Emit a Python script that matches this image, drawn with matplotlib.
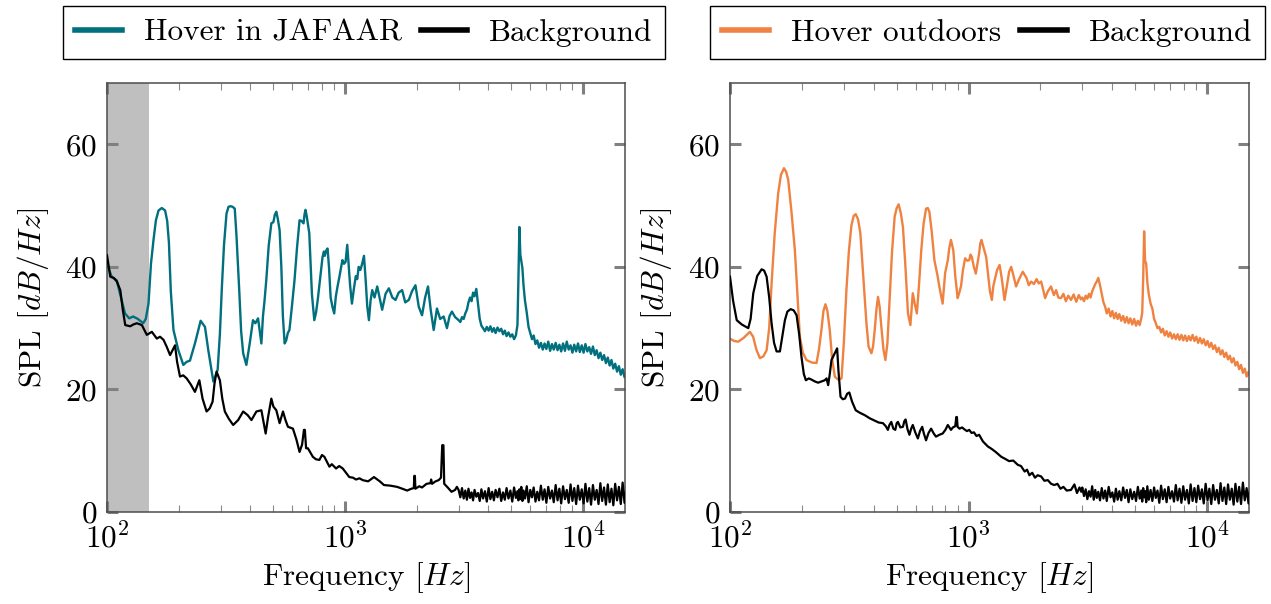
import matplotlib
matplotlib.use('Agg')
import matplotlib.pyplot as plt
from matplotlib.lines import Line2D
from matplotlib.ticker import LogLocator, NullFormatter

plt.rcParams['font.family'] = 'serif'
plt.rcParams['font.serif'] = ['cmr10']
plt.rcParams['mathtext.fontset'] = 'cm'
plt.rcParams['axes.formatter.use_mathtext'] = True
plt.rcParams['axes.unicode_minus'] = False

# ---------------- data ----------------
# shared high-frequency grid (Hz)
hf_freq = [3000, 3050, 3100, 3150, 3200, 3250, 3300, 3350, 3400, 3450,
           3500, 3560, 3620, 3680, 3740, 3800, 3870, 3940, 4010, 4080,
           4150, 4220, 4290, 4370, 4450, 4530, 4610, 4690, 4770, 4860,
           4950, 5040, 5130, 5220, 5300, 5350, 5400, 5450, 5500, 5560,
           5620, 5700, 5800, 5900, 6000, 6100, 6200, 6310, 6420, 6530,
           6650, 6770, 6890, 7010, 7140, 7270, 7400, 7530, 7670, 7810,
           7950, 8090, 8240, 8390, 8540, 8700, 8860, 9020, 9180, 9350,
           9520, 9690, 9870, 10050, 10230, 10420, 10610, 10800, 11000, 11200,
           11400, 11610, 11820, 12030, 12250, 12470, 12700, 12930, 13160, 13400,
           13640, 13890, 14140, 14400, 14660, 14930, 15200]

# Left panel: hover in JAFAAR (low/mid frequency part)
jaf_freq = [100, 104.6, 109.8, 113.3, 119, 124, 128.8, 134.8, 141.9, 145.5,
            149.4, 153, 156.8, 160.5, 164.6, 169.9, 175.4, 179, 182, 185.4,
            190.2, 199.4, 209.2, 216, 223.1, 234.1, 247.4, 258, 266.4, 279.7,
            291.6, 298, 303.4, 310, 317.7, 324, 330.3, 337, 344.1, 350,
            359.3, 366, 373.3, 385, 397.7, 410.5, 420, 431.1, 445.2, 452,
            459, 466.7, 478, 490.2, 500, 507, 514.4, 522, 531, 540,
            548, 557.5, 566, 575, 584, 598, 613.3, 628, 644, 656,
            669.4, 676, 682.3, 690, 698, 707.5, 716, 726, 742.8, 755,
            767.8, 785, 804.3, 815, 822, 832, 844.3, 856, 870, 885,
            900.5, 915, 930, 944, 958, 974.8, 990, 1005, 1021.5, 1035,
            1050, 1069, 1090, 1110, 1125, 1141, 1160, 1180, 1201, 1220,
            1240, 1260, 1280, 1301, 1330, 1365, 1400, 1432, 1480, 1528,
            1580, 1630, 1680, 1737, 1790, 1853, 1910, 1976, 2040, 2106,
            2170, 2231, 2290, 2357, 2433, 2510, 2596, 2680, 2750, 2812, 2900]
jaf_spl = [40.5, 38.4, 37.8, 35.7, 32.4, 31.6, 31.9, 31.5, 30.8, 31.5,
           34.0, 40.5, 44.4, 47.6, 49.2, 49.6, 49.2, 47.5, 44.0, 36.0,
           29.7, 26.4, 24.0, 24.5, 24.7, 27.5, 31.2, 30.2, 26.4, 21.3,
           23.2, 29.0, 36.2, 43.5, 48.7, 49.8, 49.9, 49.8, 49.5, 45.0,
           36.2, 29.5, 25.9, 24.0, 27.5, 31.3, 30.8, 31.6, 27.5, 31.9,
           34.5, 37.8, 43.5, 47.1, 47.3, 48.5, 49.0, 47.8, 46.0, 40.0,
           32.0, 27.5, 28.0, 29.2, 29.7, 33.5, 37.8, 43.0, 47.6, 47.5,
           47.1, 48.6, 49.3, 48.3, 47.0, 45.5, 41.0, 35.5, 31.3, 32.5,
           34.6, 38.0, 41.6, 42.5, 41.8, 42.6, 43.0, 40.0, 35.0, 33.5,
           32.4, 35.2, 36.8, 38.1, 39.5, 41.1, 40.5, 40.8, 43.6, 40.5,
           37.0, 34.0, 36.5, 38.5, 38.0, 40.0, 39.5, 40.5, 41.8, 38.0,
           33.5, 31.3, 34.5, 36.2, 35.0, 36.8, 34.8, 33.0, 35.6, 36.5,
           35.0, 34.6, 35.8, 36.2, 34.2, 34.6, 36.0, 37.0, 33.5, 32.1,
           35.0, 36.8, 33.0, 29.7, 33.2, 31.5, 31.9, 30.0, 32.0, 32.7, 31.8]
jaf_hf_spl = [31.3, 31.0, 31.8, 31.5, 32.4, 33.0, 34.2, 35.0, 34.4, 35.8,
              35.2, 36.4, 34.0, 31.5, 30.4, 30.0, 29.5, 30.2, 29.6, 30.3,
              29.4, 30.0, 29.2, 30.1, 29.5, 29.9, 29.0, 29.6, 28.7, 29.3,
              28.6, 29.0, 28.2, 28.8, 30.5, 38.0, 46.5, 42.0, 41.0, 39.8,
              37.0, 34.5, 32.5, 30.2, 29.2, 28.2, 28.8, 27.4, 28.0, 26.8,
              27.6, 26.5, 27.5, 26.6, 27.8, 26.3, 27.4, 26.5, 27.6, 26.4,
              27.3, 26.2, 27.5, 26.3, 27.8, 26.5, 27.2, 26.0, 27.3, 26.2,
              27.5, 26.1, 27.2, 26.0, 27.4, 26.2, 26.9, 25.8, 27.0, 25.6,
              26.4, 25.1, 26.0, 24.8, 25.6, 24.3, 25.2, 23.9, 24.8, 23.4,
              24.2, 22.9, 23.8, 22.4, 23.3, 22.0, 22.8]

# Left panel: background
bgl_freq = [100, 103.2, 106.7, 110.1, 113.7, 116.5, 119.3, 125.2, 129, 133.5,
            140.1, 147.0, 154.3, 161.9, 167, 172.7, 178, 184.1, 193.1, 197,
            202.6, 209, 216.1, 225, 234.1, 244.3, 252, 262.0, 270, 277.7,
            283, 288.6, 298.0, 305, 312.6, 325, 338.9, 355.6, 373.3, 390,
            404.4, 424.2, 445.2, 464.0, 475, 490.2, 500, 514.4, 531.0, 548.7,
            562, 575.8, 604.2, 625, 644.0, 660, 672, 678, 686, 698.0,
            732.6, 755, 780.6, 800, 819.1, 859.6, 880, 917.0, 945, 978.1,
            1010, 1042, 1080, 1112, 1150, 1186, 1250, 1323, 1400, 1457,
            1550, 1655, 1740, 1823, 1900, 1945, 1955, 1965, 1975, 2050,
            2106, 2200, 2284, 2300, 2320, 2400, 2474, 2530, 2560, 2590,
            2610, 2700, 2800, 2900, 2950]
bgl_spl = [41.9, 38.4, 38.2, 37.6, 36.2, 33.0, 30.5, 30.3, 30.6, 30.8,
           30.5, 28.9, 29.4, 28.3, 28.6, 28.1, 27.0, 25.6, 27.2, 24.5,
           22.1, 22.3, 21.8, 20.8, 19.6, 21.5, 18.5, 16.4, 16.9, 18.0,
           21.0, 22.9, 21.5, 18.5, 16.4, 15.2, 14.2, 15.0, 16.4, 15.8,
           15.0, 16.4, 16.6, 12.8, 15.5, 18.5, 17.2, 16.6, 14.5, 16.4,
           15.0, 13.9, 13.6, 11.8, 9.8, 11.0, 13.4, 13.4, 10.4, 10.4,
           9.0, 8.6, 8.5, 9.3, 9.0, 7.4, 7.8, 7.1, 7.5, 7.1,
           6.4, 5.7, 5.6, 5.3, 5.5, 5.2, 5.0, 5.7, 5.0, 4.4,
           4.3, 4.1, 3.8, 3.5, 3.8, 3.9, 5.9, 5.9, 3.8, 4.2,
           4.0, 4.6, 4.7, 5.3, 4.6, 5.0, 5.2, 5.6, 10.9, 10.9,
           4.6, 4.0, 3.3, 3.6, 4.1]
bgl_hf_spl = [3.6, 2.4, 3.9, 2.2, 3.5, 2.0, 3.8, 2.3, 3.2, 1.9,
              3.6, 2.5, 3.1, 1.8, 3.7, 2.2, 3.4, 1.7, 3.9, 2.1,
              3.3, 1.9, 3.6, 2.4, 3.8, 1.8, 3.2, 2.0, 3.9, 2.2,
              3.5, 1.7, 4.0, 2.3, 3.4, 1.9, 3.7, 2.1, 4.1, 1.8,
              3.5, 2.2, 4.2, 1.6, 3.6, 2.4, 4.0, 1.7, 3.3, 1.9,
              4.3, 2.0, 3.7, 1.5, 4.1, 2.2, 3.5, 1.6, 4.4, 1.9,
              3.8, 1.4, 4.2, 2.1, 3.6, 1.5, 4.5, 1.8, 3.9, 1.3,
              4.3, 2.0, 3.7, 1.4, 4.6, 1.7, 3.9, 1.2, 4.4, 2.0,
              3.6, 1.3, 4.7, 1.8, 4.0, 1.2, 4.5, 1.6, 3.8, 1.1,
              4.6, 1.9, 4.1, 1.3, 4.8, 1.5, 3.9]

# Right panel: hover outdoors
out_freq = [100, 104, 108.3, 114, 121.2, 125, 129, 133.5, 138, 142.4,
            146, 149.4, 154, 159.2, 163.5, 168.3, 172, 175.4, 181, 187.1,
            192, 196.3, 202, 209.2, 220, 230.5, 236, 241.7, 246.5, 251.3,
            256, 262, 268, 275, 284, 293.5, 300, 307.7, 315, 323,
            330, 336.6, 344, 352, 362, 373.3, 381, 391.7, 398, 404.4,
            411, 417.4, 424, 431.1, 440, 448.3, 457, 466.7, 478, 490.2,
            500, 509.5, 520, 531, 544, 557.5, 570.6, 577, 584, 595,
            607.4, 620, 633.8, 648, 663.7, 675, 685.3, 700, 719.4, 742.8,
            754.4, 778.9, 798, 819.1, 830, 844.3, 854, 863.6, 880, 900.5,
            915, 930, 948, 968, 988, 1006.6, 1020, 1033, 1050, 1073,
            1090, 1108, 1120, 1133, 1150, 1170, 1186, 1210, 1230, 1253,
            1270, 1287, 1318, 1350, 1380, 1416, 1450, 1480, 1510, 1545,
            1583, 1630, 1689, 1750, 1790, 1830, 1880, 1930, 1970, 2016,
            2050, 2095, 2150, 2218, 2280, 2330, 2380, 2441, 2500, 2560,
            2620, 2690, 2760, 2830, 2900, 2960]
out_spl = [28.3, 27.9, 27.8, 28.4, 29.4, 28.6, 26.5, 25.1, 25.4, 26.4,
           30.0, 37.3, 45.5, 52.0, 55.0, 56.1, 55.5, 54.2, 49.0, 42.7,
           35.0, 28.6, 26.0, 24.8, 24.4, 24.3, 26.5, 29.7, 32.8, 33.9,
           32.8, 29.7, 25.0, 22.1, 21.6, 21.8, 27.5, 36.2, 42.5, 46.8,
           48.3, 48.6, 47.8, 45.5, 38.5, 30.8, 27.0, 25.9, 27.0, 29.7,
           33.0, 35.1, 33.5, 30.2, 26.5, 24.8, 27.5, 34.6, 42.5, 48.2,
           49.6, 50.2, 48.8, 46.5, 40.0, 32.4, 30.5, 33.0, 35.7, 34.0,
           32.4, 37.0, 42.7, 47.0, 49.5, 49.6, 49.0, 46.0, 41.1, 38.4,
           36.8, 34.0, 39.0, 41.1, 43.0, 44.4, 43.5, 42.7, 38.5, 34.9,
           35.8, 36.8, 39.5, 41.4, 41.0, 41.1, 42.0, 41.6, 40.2, 38.9,
           40.5, 42.2, 43.8, 44.4, 43.5, 42.5, 41.6, 38.5, 36.0, 34.6,
           36.8, 37.8, 39.5, 40.3, 38.0, 34.6, 37.0, 39.2, 40.0, 38.5,
           36.8, 38.0, 39.2, 38.2, 37.0, 37.6, 37.2, 38.0, 37.3, 37.6,
           36.5, 34.9, 36.0, 36.8, 35.4, 36.2, 35.0, 34.9, 35.6, 34.4,
           35.3, 34.6, 35.5, 34.3, 35.4, 34.7]
out_hf_spl = [35.0, 34.4, 35.3, 34.8, 35.6, 35.0, 36.0, 36.6, 37.2, 37.6,
              38.2, 37.0, 35.6, 34.2, 33.5, 32.4, 33.2, 31.9, 32.8, 31.6,
              32.5, 31.5, 32.3, 31.2, 32.0, 30.9, 31.8, 30.8, 31.6, 30.6,
              31.5, 30.4, 31.2, 30.5, 31.6, 32.5, 38.0, 45.8, 41.0, 40.5,
              37.5, 35.5, 34.0, 33.2, 31.5, 30.8, 30.0, 30.2, 29.3, 29.9,
              28.8, 29.5, 28.6, 29.3, 28.3, 29.0, 28.2, 29.0, 28.1, 28.9,
              28.0, 28.8, 27.9, 28.7, 28.0, 28.9, 27.9, 28.6, 27.6, 28.4,
              27.5, 28.2, 27.2, 27.9, 26.9, 27.6, 26.6, 27.2, 26.1, 26.8,
              25.7, 26.4, 25.3, 26.0, 24.9, 25.5, 24.4, 25.1, 23.9, 24.5,
              23.3, 24.0, 22.7, 23.4, 22.1, 22.9, 21.9]

# Right panel: background
bgr_freq = [100, 103, 106.7, 112, 119.3, 122, 125.2, 130, 135.7, 139,
            142.4, 146, 149.4, 153, 156.8, 161.9, 165.5, 169.9, 174, 179.6,
            185, 190.2, 195, 199.4, 204, 208, 214, 219.7, 227, 234.1,
            242, 249.7, 254, 258, 262, 266.4, 274, 281.3, 285, 290.7,
            297, 303.4, 310, 316.4, 325, 336.6, 350, 367.3, 385, 404.4,
            420, 437.7, 450, 459.2, 466, 474.6, 484, 493.2, 500, 506,
            518, 531, 538, 545, 555, 565.5, 575, 584, 598, 613.3,
            626, 639.5, 650, 663.7, 680, 697, 715, 730.6, 755, 778.9,
            800, 819.1, 832, 844.3, 860, 880, 889, 894, 900, 917,
            940, 960, 985, 1006.6, 1030, 1054, 1080, 1108, 1150, 1205,
            1250, 1300, 1373, 1420, 1480, 1540, 1609, 1660, 1720, 1760,
            1800, 1850, 1900, 1950, 2016, 2080, 2150, 2220, 2290, 2360,
            2430, 2500, 2580, 2690, 2780, 2850, 2920, 2970]
bgr_spl = [38.4, 34.5, 31.3, 30.6, 30.0, 31.5, 35.7, 38.5, 39.6, 39.4,
           38.4, 35.0, 30.8, 27.6, 26.2, 26.2, 28.5, 31.3, 32.7, 33.1,
           32.9, 32.1, 29.0, 25.3, 22.5, 21.5, 21.8, 21.6, 21.3, 21.1,
           21.3, 21.5, 21.8, 20.7, 22.5, 24.8, 25.8, 26.7, 23.0, 18.8,
           18.4, 18.5, 19.3, 19.5, 18.0, 16.6, 16.2, 15.8, 15.3, 14.9,
           14.6, 14.5, 14.0, 13.4, 14.2, 14.7, 13.6, 13.4, 14.5, 14.7,
           13.8, 13.9, 14.8, 15.1, 13.5, 12.6, 13.6, 14.2, 13.0, 12.0,
           13.2, 13.9, 12.8, 11.7, 12.9, 13.6, 12.8, 12.3, 12.6, 12.8,
           13.4, 14.2, 13.8, 13.4, 13.8, 14.0, 15.5, 15.5, 13.9, 13.6,
           13.8, 13.5, 13.2, 13.4, 12.9, 13.0, 12.4, 12.6, 11.5, 10.7,
           10.3, 9.8, 9.0, 8.7, 8.3, 8.4, 7.7, 7.5, 6.6, 6.9,
           6.0, 6.4, 5.6, 6.0, 5.8, 5.1, 5.2, 4.6, 4.4, 4.6,
           3.8, 4.1, 3.5, 3.6, 4.5, 3.1, 4.0, 3.3]
bgr_hf_spl = [4.0, 2.6, 3.7, 2.1, 3.4, 2.5, 4.2, 2.0, 3.6, 2.3,
              3.3, 1.9, 3.9, 2.2, 3.5, 1.8, 4.1, 2.4, 3.2, 1.7,
              3.8, 2.0, 3.4, 1.9, 4.0, 2.3, 3.6, 1.6, 3.7, 2.1,
              3.3, 1.8, 4.1, 2.2, 3.5, 1.7, 3.9, 2.4, 3.4, 1.6,
              4.2, 2.0, 3.6, 1.8, 4.0, 2.3, 3.5, 1.5, 4.3, 2.1,
              3.7, 1.6, 4.1, 2.2, 3.4, 1.7, 4.4, 1.9, 3.8, 1.5,
              4.2, 2.0, 3.6, 1.4, 4.5, 1.8, 3.9, 1.6, 4.3, 2.1,
              3.7, 1.4, 4.6, 1.9, 3.8, 1.3, 4.4, 2.0, 3.6, 1.4,
              4.7, 1.8, 4.0, 1.3, 4.5, 2.0, 3.8, 1.2, 4.6, 1.7,
              4.1, 1.3, 4.8, 1.9, 3.9, 1.4, 4.4]

excluded_band = [100, 150]   # grey shaded low-frequency band (Hz), left panel

labels_left = ['Hover in JAFAAR', 'Background']
labels_right = ['Hover outdoors', 'Background']
yticks = [0, 20, 40, 60]

TEAL = '#006f7e'
ORANGE = '#ef8240'
BLACK = '#000000'

# ---------------- figure ----------------
W, H = 1271, 604
fig = plt.figure(figsize=(W / 100, H / 100), dpi=100)
ax1 = fig.add_axes([107 / W, 92 / H, 518 / W, 429 / H])
ax2 = fig.add_axes([730 / W, 92 / H, 519 / W, 429 / H])

FS = 22.5

ax1.axvspan(excluded_band[0], excluded_band[1], color='#bfbfbf', lw=0, zorder=0)
ax1.plot(jaf_freq + hf_freq, jaf_spl + jaf_hf_spl, color=TEAL, lw=1.7, zorder=2)
ax1.plot(bgl_freq + hf_freq, bgl_spl + bgl_hf_spl, color=BLACK, lw=1.6, zorder=3)

ax2.plot(out_freq + hf_freq, out_spl + out_hf_spl, color=ORANGE, lw=1.7, zorder=2)
ax2.plot(bgr_freq + hf_freq, bgr_spl + bgr_hf_spl, color=BLACK, lw=1.6, zorder=3)

for ax, col, labs in [(ax1, TEAL, labels_left), (ax2, ORANGE, labels_right)]:
    ax.set_xscale('log')
    ax.set_xlim(100, 15000)
    ax.set_ylim(0, 70)
    ax.set_yticks(yticks)
    ax.xaxis.set_major_locator(LogLocator(base=10, numticks=10))
    ax.xaxis.set_minor_locator(LogLocator(base=10, subs=range(2, 10), numticks=20))
    ax.xaxis.set_minor_formatter(NullFormatter())
    ax.tick_params(which='major', direction='in', length=8, width=2.2,
                   color='#808080', top=True, right=True, labelsize=FS, pad=7)
    ax.tick_params(which='minor', direction='in', length=5, width=0.8,
                   color='#8a8a8a', top=True, right=True)
    for s in ax.spines.values():
        s.set_color('#4d4d4d')
        s.set_linewidth(1.1)
    ax.set_xlabel('Frequency $[Hz]$', fontsize=FS, labelpad=5)
    ax.set_ylabel('SPL $[dB/Hz]$', fontsize=FS, labelpad=10)
    handles = [Line2D([], [], color=col, lw=4), Line2D([], [], color=BLACK, lw=4)]
    leg = ax.legend(handles, labs, loc='center', bbox_to_anchor=(0.496, 1.117),
                    ncol=2, fontsize=FS, frameon=True, fancybox=False,
                    edgecolor='black', framealpha=1, handlelength=1.5,
                    handletextpad=0.7, columnspacing=0.6, borderpad=0.4)
    leg.get_frame().set_linewidth(1.0)

fig.savefig('out.png', dpi=100)
